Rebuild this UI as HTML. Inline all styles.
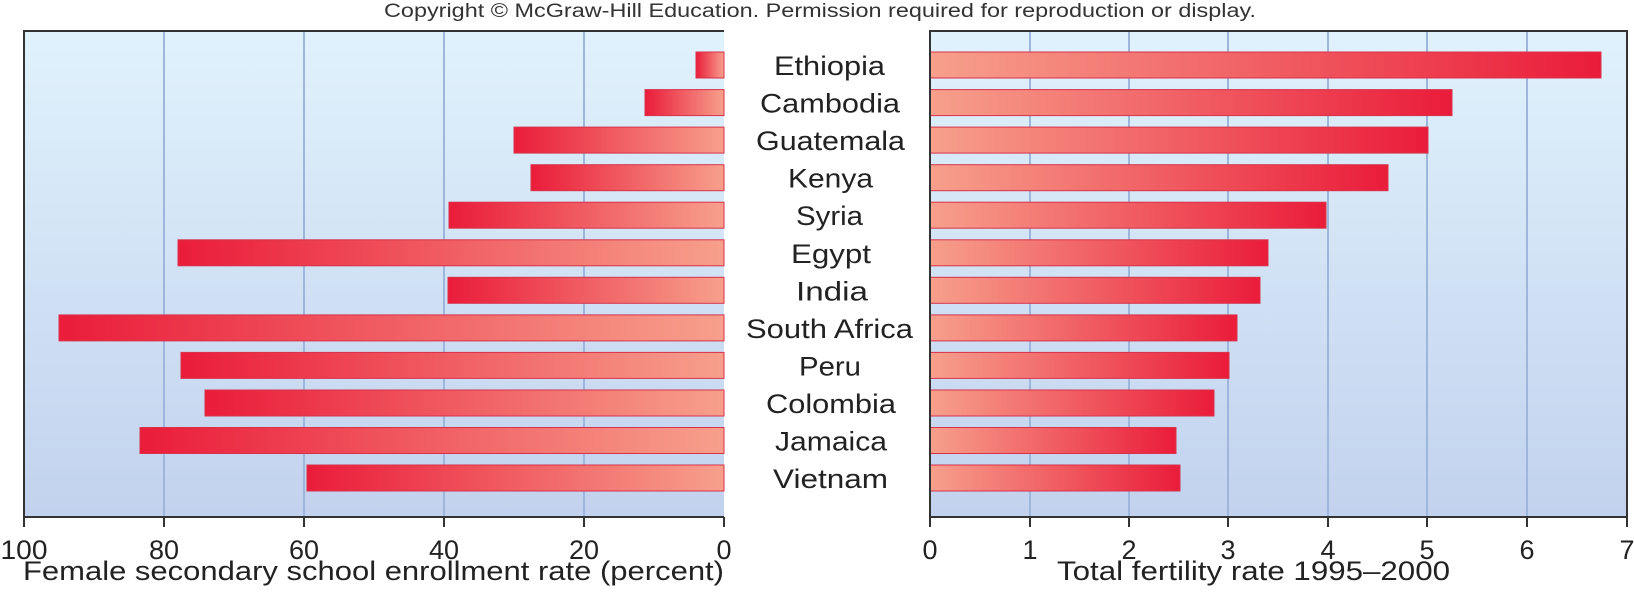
<!DOCTYPE html>
<html><head><meta charset="utf-8"><style>
html,body{margin:0;padding:0;background:#fff;}
svg{display:block;font-family:"Liberation Sans",sans-serif;}
</style></head><body>
<svg width="1634" height="611" viewBox="0 0 1634 611" xmlns="http://www.w3.org/2000/svg">
<defs>
<linearGradient id="bg" x1="0" y1="0" x2="0" y2="1"><stop offset="0" stop-color="#e0f2fc"/><stop offset="1" stop-color="#c2d2ee"/></linearGradient>
<linearGradient id="gl" x1="0" y1="0" x2="1" y2="0"><stop offset="0" stop-color="#ea1c3a"/><stop offset="1" stop-color="#f7a08c"/></linearGradient>
<linearGradient id="gr" x1="0" y1="0" x2="1" y2="0"><stop offset="0" stop-color="#f7a08c"/><stop offset="1" stop-color="#ea1c3a"/></linearGradient>
</defs>
<text x="384" y="17" font-size="19" fill="#333" textLength="872" lengthAdjust="spacingAndGlyphs">Copyright © McGraw-Hill Education. Permission required for reproduction or display.</text>
<rect x="24" y="31" width="700" height="486" fill="url(#bg)"/>
<rect x="930" y="31" width="697" height="486" fill="url(#bg)"/>
<g stroke="#9fb6dc" stroke-width="2">
<line x1="164" y1="31" x2="164" y2="517"/><line x1="304" y1="31" x2="304" y2="517"/><line x1="444" y1="31" x2="444" y2="517"/><line x1="584" y1="31" x2="584" y2="517"/>
<line x1="1030" y1="31" x2="1030" y2="517"/><line x1="1129" y1="31" x2="1129" y2="517"/><line x1="1228" y1="31" x2="1228" y2="517"/><line x1="1328" y1="31" x2="1328" y2="517"/><line x1="1427" y1="31" x2="1427" y2="517"/><line x1="1527" y1="31" x2="1527" y2="517"/>
</g>
<g fill="url(#gl)" stroke="#d8324a" stroke-width="1">
<rect x="696" y="52" width="28" height="26"/>
<rect x="645" y="89.6" width="79" height="26"/>
<rect x="514" y="127.1" width="210" height="26"/>
<rect x="531" y="164.7" width="193" height="26"/>
<rect x="449" y="202.2" width="275" height="26"/>
<rect x="178" y="239.8" width="546" height="26"/>
<rect x="448" y="277.3" width="276" height="26"/>
<rect x="59" y="314.9" width="665" height="26"/>
<rect x="181" y="352.4" width="543" height="26"/>
<rect x="205" y="390" width="519" height="26"/>
<rect x="140" y="427.5" width="584" height="26"/>
<rect x="307" y="465" width="417" height="26"/>
</g>
<g fill="url(#gr)" stroke="#d8324a" stroke-width="1">
<rect x="930" y="52" width="671" height="26"/>
<rect x="930" y="89.6" width="522" height="26"/>
<rect x="930" y="127.1" width="498" height="26"/>
<rect x="930" y="164.7" width="458" height="26"/>
<rect x="930" y="202.2" width="396" height="26"/>
<rect x="930" y="239.8" width="338" height="26"/>
<rect x="930" y="277.3" width="330" height="26"/>
<rect x="930" y="314.9" width="307" height="26"/>
<rect x="930" y="352.4" width="299" height="26"/>
<rect x="930" y="390" width="284" height="26"/>
<rect x="930" y="427.5" width="246" height="26"/>
<rect x="930" y="465" width="250" height="26"/>
</g>
<g fill="none" stroke="#333" stroke-width="2">
<polyline points="724,31 24,31 24,517 724,517"/>
<polyline points="930,517 930,31 1627,31 1627,517"/>
<line x1="930" y1="517" x2="1627" y2="517"/>
</g>
<g stroke="#333" stroke-width="2">
<line x1="24" y1="517" x2="24" y2="527"/><line x1="164" y1="517" x2="164" y2="527"/><line x1="304" y1="517" x2="304" y2="527"/><line x1="444" y1="517" x2="444" y2="527"/><line x1="584" y1="517" x2="584" y2="527"/><line x1="724" y1="517" x2="724" y2="527"/>
<line x1="930" y1="517" x2="930" y2="527"/><line x1="1030" y1="517" x2="1030" y2="527"/><line x1="1129" y1="517" x2="1129" y2="527"/><line x1="1228" y1="517" x2="1228" y2="527"/><line x1="1328" y1="517" x2="1328" y2="527"/><line x1="1427" y1="517" x2="1427" y2="527"/><line x1="1527" y1="517" x2="1527" y2="527"/><line x1="1627" y1="517" x2="1627" y2="527"/>
</g>
<g font-size="27" fill="#222" text-anchor="middle">
<text x="24" y="559" textLength="47" lengthAdjust="spacingAndGlyphs">100</text><text x="164" y="559">80</text><text x="304" y="559">60</text><text x="444" y="559">40</text><text x="584" y="559">20</text><text x="724" y="559">0</text>
<text x="930" y="559">0</text><text x="1030" y="559">1</text><text x="1129" y="559">2</text><text x="1228" y="559">3</text><text x="1328" y="559">4</text><text x="1427" y="559">5</text><text x="1527" y="559">6</text><text x="1627" y="559">7</text>
</g>
<g font-size="27" fill="#222">
<text x="23" y="580" textLength="701" lengthAdjust="spacingAndGlyphs">Female secondary school enrollment rate (percent)</text>
<text x="1057" y="580" textLength="393" lengthAdjust="spacingAndGlyphs">Total fertility rate 1995–2000</text>
<text x="774" y="75" textLength="111" lengthAdjust="spacingAndGlyphs">Ethiopia</text>
<text x="760" y="112.6" textLength="140" lengthAdjust="spacingAndGlyphs">Cambodia</text>
<text x="756" y="150.1" textLength="149" lengthAdjust="spacingAndGlyphs">Guatemala</text>
<text x="788" y="187.7" textLength="85" lengthAdjust="spacingAndGlyphs">Kenya</text>
<text x="796" y="225.2" textLength="67" lengthAdjust="spacingAndGlyphs">Syria</text>
<text x="791" y="262.8" textLength="80" lengthAdjust="spacingAndGlyphs">Egypt</text>
<text x="796" y="300.3" textLength="72" lengthAdjust="spacingAndGlyphs">India</text>
<text x="746" y="337.9" textLength="167" lengthAdjust="spacingAndGlyphs">South Africa</text>
<text x="799" y="375.4" textLength="62" lengthAdjust="spacingAndGlyphs">Peru</text>
<text x="766" y="413" textLength="130" lengthAdjust="spacingAndGlyphs">Colombia</text>
<text x="775" y="450.5" textLength="112" lengthAdjust="spacingAndGlyphs">Jamaica</text>
<text x="773" y="488" textLength="115" lengthAdjust="spacingAndGlyphs">Vietnam</text>
</g>
</svg>
</body></html>
